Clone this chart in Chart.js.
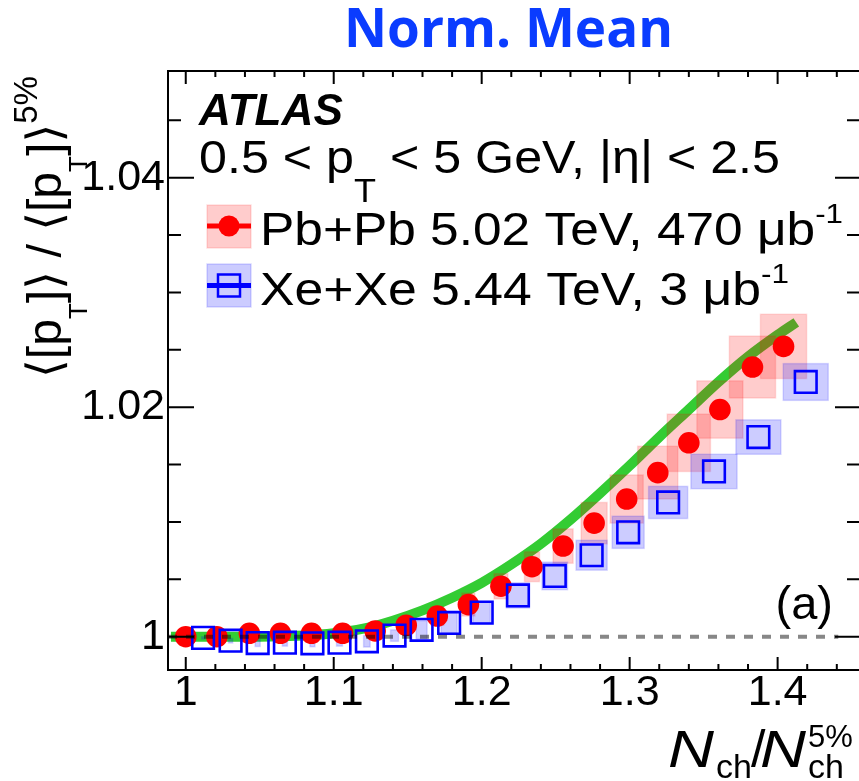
<!DOCTYPE html>
<html>
<head>
<meta charset="utf-8">
<script src="https://cdn.jsdelivr.net/npm/chart.js@4.4.1/dist/chart.umd.min.js"></script>
<style>
html, body { margin: 0; padding: 0; background: #fff; overflow: hidden; }
canvas { display: block; }
</style>
</head>
<body>
<canvas id="chart" width="859" height="781"></canvas>
<script>
// Pb+Pb 5.02 TeV points + systematic box half sizes
var pbX = [1.000, 1.021, 1.043, 1.064, 1.085, 1.106, 1.128, 1.149, 1.170, 1.191, 1.213, 1.234, 1.255, 1.276, 1.298, 1.319, 1.340, 1.361, 1.383, 1.404];
var pbY = [1.0000, 1.0000, 1.0003, 1.0003, 1.0003, 1.0003, 1.0005, 1.0010, 1.0018, 1.0028, 1.0044, 1.0061, 1.0079, 1.0099, 1.0120, 1.0143, 1.0169, 1.0198, 1.0235, 1.0253];
var pbErrX = [0.0014, 0.0014, 0.0020, 0.0020, 0.0027, 0.0027, 0.0034, 0.0040, 0.0044, 0.0044, 0.0047, 0.0051, 0.0068, 0.0088, 0.0112, 0.0136, 0.0146, 0.0156, 0.0156, 0.0156];
var pbErrY = [0.0002, 0.0002, 0.0003, 0.0003, 0.0003, 0.0004, 0.0005, 0.0006, 0.0008, 0.0010, 0.0011, 0.0013, 0.0015, 0.0018, 0.0021, 0.0023, 0.0025, 0.0025, 0.0027, 0.0028];

// Xe+Xe 5.44 TeV points + systematic box half sizes
var xeX = [1.0117, 1.0303, 1.0486, 1.0670, 1.0856, 1.1039, 1.1224, 1.1411, 1.1594, 1.1780, 1.2000, 1.2245, 1.2494, 1.2743, 1.2990, 1.3260, 1.3570, 1.3870, 1.4190];
var xeY = [0.9999, 0.99965, 0.99945, 0.99948, 0.99943, 0.99948, 0.9996, 1.0001, 1.0006, 1.0012, 1.0021, 1.0036, 1.0053, 1.0071, 1.0091, 1.0117, 1.0144, 1.0174, 1.0222];
var xeErrX = [0.0010, 0.0014, 0.0017, 0.0017, 0.0017, 0.0020, 0.0022, 0.0027, 0.0037, 0.0054, 0.0058, 0.0078, 0.0086, 0.0105, 0.0108, 0.0132, 0.0156, 0.0152, 0.0152];
var xeErrY = [0.0001, 0.0002, 0.0003, 0.0003, 0.0003, 0.0003, 0.0005, 0.0005, 0.0008, 0.0009, 0.0009, 0.0011, 0.0012, 0.0013, 0.0014, 0.0014, 0.0015, 0.0015, 0.0016];

// green model curve
var modelX = [0.990, 1.020, 1.050, 1.080, 1.100, 1.120, 1.140, 1.160, 1.180, 1.200, 1.220, 1.240, 1.260, 1.280, 1.300, 1.320, 1.340, 1.360, 1.380, 1.400, 1.4126];
var modelY = [1.0000, 1.0000, 1.0000, 1.0001, 1.0003, 1.0007, 1.0014, 1.0023, 1.0034, 1.0047, 1.0063, 1.0081, 1.0102, 1.0125, 1.0149, 1.0174, 1.0198, 1.0222, 1.0244, 1.0263, 1.0274];

// dashed reference at 1
var refX = [0.988, 1.441];
var refY = [1, 1];

var xTicks = [1, 1.1, 1.2, 1.3, 1.4];
var xTickLabels = ['1', '1.1', '1.2', '1.3', '1.4'];
var yTicks = [1, 1.02, 1.04];
var yTickLabels = ['1', '1.02', '1.04'];

var FONT = "'Liberation Sans', Arial, 'DejaVu Sans', sans-serif";

function pts(xs, ys) {
    return xs.map(function (x, i) { return { x: x, y: ys[i] }; });
}

// draw a run of text pieces, squeezed/stretched to a given width
function drawRich(ctx, x, y, parts, width) {
    var w = 0;
    parts.forEach(function (p) {
        ctx.font = p.f;
        p.w = ctx.measureText(p.t).width;
        w += p.w;
    });
    var k = width ? width / w : 1;
    ctx.save();
    ctx.translate(x, y);
    ctx.scale(k, 1);
    var cx = 0;
    parts.forEach(function (p) {
        ctx.font = p.f;
        ctx.fillText(p.t, cx, p.dy || 0);
        cx += p.w;
    });
    ctx.restore();
}

function drawBoxes(chart, xs, ys, ex, ey, fill, stroke) {
    var ctx = chart.ctx, sx = chart.scales.x, sy = chart.scales.y, a = chart.chartArea;
    ctx.save();
    ctx.beginPath();
    ctx.rect(a.left, a.top, a.right - a.left, a.bottom - a.top);
    ctx.clip();
    for (var i = 0; i < xs.length; i++) {
        var x0 = sx.getPixelForValue(xs[i] - ex[i]);
        var x1 = sx.getPixelForValue(xs[i] + ex[i]);
        var y0 = sy.getPixelForValue(ys[i] + ey[i]);
        var y1 = sy.getPixelForValue(ys[i] - ey[i]);
        ctx.fillStyle = fill;
        ctx.fillRect(x0, y0, x1 - x0, y1 - y0);
        ctx.strokeStyle = stroke;
        ctx.lineWidth = 1.5;
        ctx.strokeRect(x0, y0, x1 - x0, y1 - y0);
    }
    ctx.restore();
}

var boxesPlugin = {
    id: 'sysboxes',
    beforeDatasetDraw: function (chart, args) {
        if (args.index !== 1) return;
        drawBoxes(chart, pbX, pbY, pbErrX, pbErrY, 'rgba(255,0,0,0.2)', 'rgba(255,0,0,0.12)');
        drawBoxes(chart, xeX, xeY, xeErrX, xeErrY, 'rgba(0,0,255,0.2)', 'rgba(0,0,255,0.15)');
    }
};

var framePlugin = {
    id: 'frame',
    afterDraw: function (chart) {
        var ctx = chart.ctx, a = chart.chartArea, sx = chart.scales.x, sy = chart.scales.y;
        ctx.save();
        ctx.strokeStyle = '#000';
        ctx.lineWidth = 2;
        ctx.beginPath();
        ctx.moveTo(a.right + 2, a.top);
        ctx.lineTo(a.left, a.top);
        ctx.lineTo(a.left, a.bottom);
        ctx.lineTo(a.right + 2, a.bottom);
        // inside ticks, x every 0.02
        for (var i = 0; i <= 22; i++) {
            var px = sx.getPixelForValue(1 + i * 0.02);
            var len = (i % 5 === 0) ? 13 : 6;
            ctx.moveTo(px, a.bottom);
            ctx.lineTo(px, a.bottom - len);
            ctx.moveTo(px, a.top);
            ctx.lineTo(px, a.top + len);
        }
        // y every 0.005
        for (var j = 0; j <= 9; j++) {
            var py = sy.getPixelForValue(1 + j * 0.005);
            var major = (j % 4 === 0);
            ctx.moveTo(a.left, py);
            ctx.lineTo(a.left + (major ? 26 : 13), py);
            ctx.moveTo(a.right, py);
            ctx.lineTo(a.right - (major ? 24 : 12), py);
        }
        ctx.stroke();

        // title
        ctx.fillStyle = '#0A3CFF';
        drawRich(ctx, 344, 47, [{ t: 'Norm. Mean', f: "bold 54px 'Open Sans', sans-serif" }], 329);

        ctx.fillStyle = '#000';
        drawRich(ctx, 199, 125, [{ t: 'ATLAS', f: 'italic bold 44px ' + FONT }], 144);
        drawRich(ctx, 199, 173, [
            { t: '0.5 < p', f: '46px ' + FONT },
            { t: 'T', f: '33px ' + FONT, dy: 29 },
            { t: ' < 5 GeV, |\u03b7| < 2.5', f: '46px ' + FONT }
        ], 581);
        drawRich(ctx, 260, 245, [
            { t: 'Pb+Pb 5.02 TeV, 470 \u03bcb', f: '46px ' + FONT },
            { t: '-1', f: '28px ' + FONT, dy: -22 }
        ], 583);
        drawRich(ctx, 260, 305, [
            { t: 'Xe+Xe 5.44 TeV, 3 \u03bcb', f: '46px ' + FONT },
            { t: '-1', f: '28px ' + FONT, dy: -22 }
        ], 529);

        // legend markers
        ctx.fillStyle = 'rgba(255,0,0,0.2)';
        ctx.fillRect(207, 205, 44, 43);
        ctx.strokeStyle = 'rgba(255,0,0,0.12)';
        ctx.lineWidth = 1.5;
        ctx.strokeRect(207, 205, 44, 43);
        ctx.strokeStyle = '#ff0000';
        ctx.lineWidth = 5;
        ctx.beginPath();
        ctx.moveTo(207, 226);
        ctx.lineTo(251, 226);
        ctx.stroke();
        ctx.fillStyle = '#ff0000';
        ctx.beginPath();
        ctx.arc(229, 226, 10.5, 0, Math.PI * 2);
        ctx.fill();

        ctx.fillStyle = 'rgba(0,0,255,0.2)';
        ctx.fillRect(207, 264, 44, 43);
        ctx.strokeStyle = 'rgba(0,0,255,0.15)';
        ctx.lineWidth = 1.5;
        ctx.strokeRect(207, 264, 44, 43);
        ctx.strokeStyle = '#0000ff';
        ctx.lineWidth = 5;
        ctx.beginPath();
        ctx.moveTo(207, 285.5);
        ctx.lineTo(251, 285.5);
        ctx.stroke();
        ctx.lineWidth = 2.5;
        ctx.strokeRect(218, 274.5, 22, 22);

        // (a)
        ctx.fillStyle = '#000';
        ctx.font = '47px ' + FONT;
        ctx.textAlign = 'right';
        ctx.fillText('(a)', 833, 619);
        ctx.textAlign = 'left';

        // x title
        drawRich(ctx, 668, 767, [{ t: 'N', f: 'italic 52px ' + FONT }], 46);
        ctx.font = '34px ' + FONT;
        ctx.fillText('ch', 716, 778);
        ctx.font = '52px ' + FONT;
        ctx.fillText('/', 751, 767);
        drawRich(ctx, 760, 767, [{ t: 'N', f: 'italic 52px ' + FONT }], 46);
        ctx.font = '31px ' + FONT;
        ctx.fillText('5%', 808, 747);
        ctx.font = '34px ' + FONT;
        ctx.fillText('ch', 808, 778);

        // y title, rotated
        ctx.save();
        ctx.translate(61, 378);
        ctx.rotate(-Math.PI / 2);
        drawRich(ctx, 0, 0, [
            { t: '\u27e8[p', f: '48px ' + FONT },
            { t: 'T', f: '26px ' + FONT, dy: 26 },
            { t: ']\u27e9 / \u27e8[p', f: '48px ' + FONT },
            { t: 'T', f: '26px ' + FONT, dy: 26 },
            { t: ']\u27e9', f: '48px ' + FONT },
            { t: '5%', f: '33px ' + FONT, dy: -24 }
        ], 302);
        ctx.restore();

        ctx.restore();
    }
};

new Chart(document.getElementById('chart'), {
    type: 'scatter',
    data: {
        datasets: [{
            type: 'line',
            data: pts(modelX, modelY),
            borderColor: '#33cc33',
            borderWidth: 10,
            pointRadius: 0,
            cubicInterpolationMode: 'monotone',
            fill: false,
            order: 5
        }, {
            data: pts(pbX, pbY),
            pointStyle: 'circle',
            pointRadius: 10.8,
            backgroundColor: '#ff0000',
            borderWidth: 0,
            order: 3
        }, {
            data: pts(xeX, xeY),
            pointStyle: 'rect',
            pointRadius: 15.3,
            backgroundColor: 'rgba(0,0,0,0)',
            borderColor: '#0000ff',
            borderWidth: 2.6,
            order: 2
        }, {
            type: 'line',
            data: pts(refX, refY),
            borderColor: 'rgba(0,0,0,0.47)',
            borderWidth: 4,
            borderDash: [9, 9],
            pointRadius: 0,
            fill: false,
            order: 1
        }]
    },
    options: {
        responsive: false,
        animation: false,
        devicePixelRatio: 1,
        layout: { autoPadding: false, padding: { top: 71, left: 0, right: 0, bottom: 0 } },
        plugins: { legend: { display: false }, tooltip: { enabled: false } },
        scales: {
            x: {
                type: 'linear',
                min: 0.988,
                max: 1.455,
                grid: { display: false, drawTicks: false },
                border: { display: false },
                afterBuildTicks: function (s) { s.ticks = xTicks.map(function (v) { return { value: v }; }); },
                afterFit: function (s) { s.height = 111; },
                ticks: {
                    autoSkip: false,
                    maxRotation: 0,
                    padding: 2,
                    color: '#000',
                    font: { family: FONT, size: 43, lineHeight: 1 },
                    callback: function (v, i) { return xTickLabels[i]; }
                }
            },
            y: {
                type: 'linear',
                min: 0.9971,
                max: 1.0493,
                grid: { display: false, drawTicks: false },
                border: { display: false },
                afterBuildTicks: function (s) { s.ticks = yTicks.map(function (v) { return { value: v }; }); },
                afterFit: function (s) { s.width = 168; },
                ticks: {
                    autoSkip: false,
                    padding: 3,
                    color: '#000',
                    font: { family: FONT, size: 43, lineHeight: 1 },
                    callback: function (v, i) { return yTickLabels[i]; }
                }
            }
        }
    },
    plugins: [boxesPlugin, framePlugin]
});
</script>
</body>
</html>
